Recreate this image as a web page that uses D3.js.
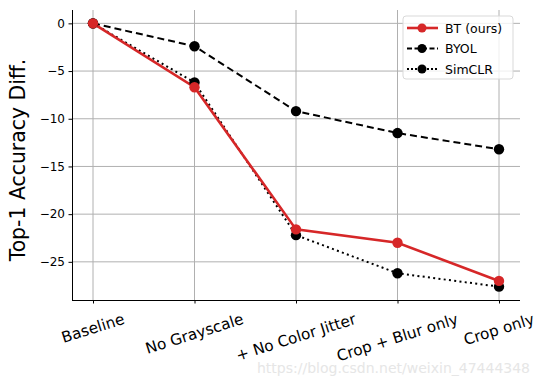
<!DOCTYPE html>
<html><head><meta charset="utf-8">
<script src="https://cdn.jsdelivr.net/npm/d3@7"></script>
<style>body{margin:0;background:#fff}svg{display:block}text{font-family:"DejaVu Sans",sans-serif}</style>
</head><body>
<svg id="c" width="538" height="385"></svg>
<script>
const categories = ["Baseline", "No Grayscale", "+ No Color Jitter", "Crop + Blur only", "Crop only"];
const btValues = [0, -6.7, -21.6, -23.0, -27.0];
const byolValues = [0, -2.4, -9.2, -11.5, -13.2];
const simclrValues = [0, -6.2, -22.2, -26.2, -27.6];
const yTicks = [0, -5, -10, -15, -20, -25];
const seriesNames = ["BT (ours)", "BYOL", "SimCLR"];

const svg = d3.select("#c");
const L = 72, R = 520, T = 10, B = 300;
const x = d3.scalePoint().domain(categories).range([93, 499]);
const y = d3.scaleLinear().domain([-29.0, 1.4]).range([B, T]);

// grid
const g = svg.append("g");
g.selectAll(".vg").data(categories).join("line")
  .attr("x1", d => x(d)).attr("x2", d => x(d)).attr("y1", T).attr("y2", B)
  .attr("stroke", "#b0b0b0").attr("stroke-width", 1);
g.selectAll(".hg").data(yTicks).join("line")
  .attr("x1", L).attr("x2", R).attr("y1", d => y(d)).attr("y2", d => y(d))
  .attr("stroke", "#b0b0b0").attr("stroke-width", 1);

// axes
const yAxis = svg.append("g").attr("transform", `translate(${L},0)`)
  .call(d3.axisLeft(y).tickValues(yTicks).tickSize(3.5).tickPadding(3.5).tickFormat(d => d === 0 ? "0" : "\u2212" + Math.abs(d)));
yAxis.select(".domain").attr("d", `M0.5,${T}V${B}`).attr("stroke", "#000");
yAxis.selectAll("text").attr("font-size", 12).attr("font-family", "DejaVu Sans").attr("fill", "#000");

const xAxis = svg.append("g").attr("transform", `translate(0,${B})`)
  .call(d3.axisBottom(x).tickSize(3.5).tickFormat(""));
xAxis.select(".domain").attr("d", `M${L},0.5H${R}`).attr("stroke", "#000");

const fs = 15.3, angDeg = 17.5, ang = angDeg * Math.PI / 180, labelTop = B + 11;
svg.append("g").selectAll("text").data(categories).join("text")
  .attr("text-anchor", "middle").attr("dominant-baseline", "central")
  .attr("font-size", fs).attr("fill", "#000")
  .text(d => d)
  .each(function(d) {
    const w = this.getComputedTextLength();
    const h = fs * 1.05;
    const halfH = (w / 2) * Math.sin(ang) + (h / 2) * Math.cos(ang);
    d3.select(this).attr("transform", `translate(${x(d)},${labelTop + halfH}) rotate(${-angDeg})`);
  });

svg.append("text").attr("transform", `translate(18,160) rotate(-90)`)
  .attr("text-anchor", "middle").attr("dominant-baseline", "central")
  .attr("font-size", 20.4).attr("fill", "#000")
  .text("Top-1 Accuracy Diff.");

const line = d3.line().x((d, i) => x(categories[i])).y(d => y(d));
const series = [
  {vals: simclrValues, color: "#000", w: 2, dash: "2,3.3", mcolor: "#000"},
  {vals: byolValues, color: "#000", w: 2, dash: "7,4", mcolor: "#000"},
  {vals: btValues, color: "#d62728", w: 2.6, dash: null, mcolor: "#d62728"}
];
series.forEach(s => {
  svg.append("path").datum(s.vals).attr("d", line).attr("fill", "none")
    .attr("stroke", s.color).attr("stroke-width", s.w).attr("stroke-dasharray", s.dash);
});
series.forEach(s => {
  svg.append("g").selectAll("circle").data(s.vals).join("circle")
    .attr("cx", (d, i) => x(categories[i])).attr("cy", d => y(d)).attr("r", 5.2)
    .attr("fill", s.mcolor);
});

// legend
const lg = svg.append("g").attr("transform", "translate(403,16)");
lg.append("rect").attr("width", 110).attr("height", 63).attr("rx", 3)
  .attr("fill", "#fff").attr("fill-opacity", 0.8).attr("stroke", "#d9d9d9");
const legItems = [
  {name: seriesNames[0], color: "#d62728", w: 2.6, dash: null},
  {name: seriesNames[1], color: "#000", w: 2, dash: "5,2.5"},
  {name: seriesNames[2], color: "#000", w: 2, dash: "2,2"}
];
legItems.forEach((it, i) => {
  const yy = 12 + i * 20.5;
  lg.append("line").attr("x1", 4).attr("x2", 35).attr("y1", yy).attr("y2", yy)
    .attr("stroke", it.color).attr("stroke-width", it.w).attr("stroke-dasharray", it.dash);
  lg.append("circle").attr("cx", 19).attr("cy", yy).attr("r", 4.5).attr("fill", it.color);
  lg.append("text").attr("x", 42).attr("y", yy).attr("dominant-baseline", "central")
    .attr("font-size", 12.5).attr("fill", "#000").text(it.name);
});

// watermark
svg.append("text").attr("x", 257).attr("y", 373).attr("font-size", 14)
  .attr("font-family", "Arial, Liberation Sans, sans-serif")
  .attr("fill", "#e6e6e6").text("https://blog.csdn.net/weixin_47444348");
</script>
</body></html>
